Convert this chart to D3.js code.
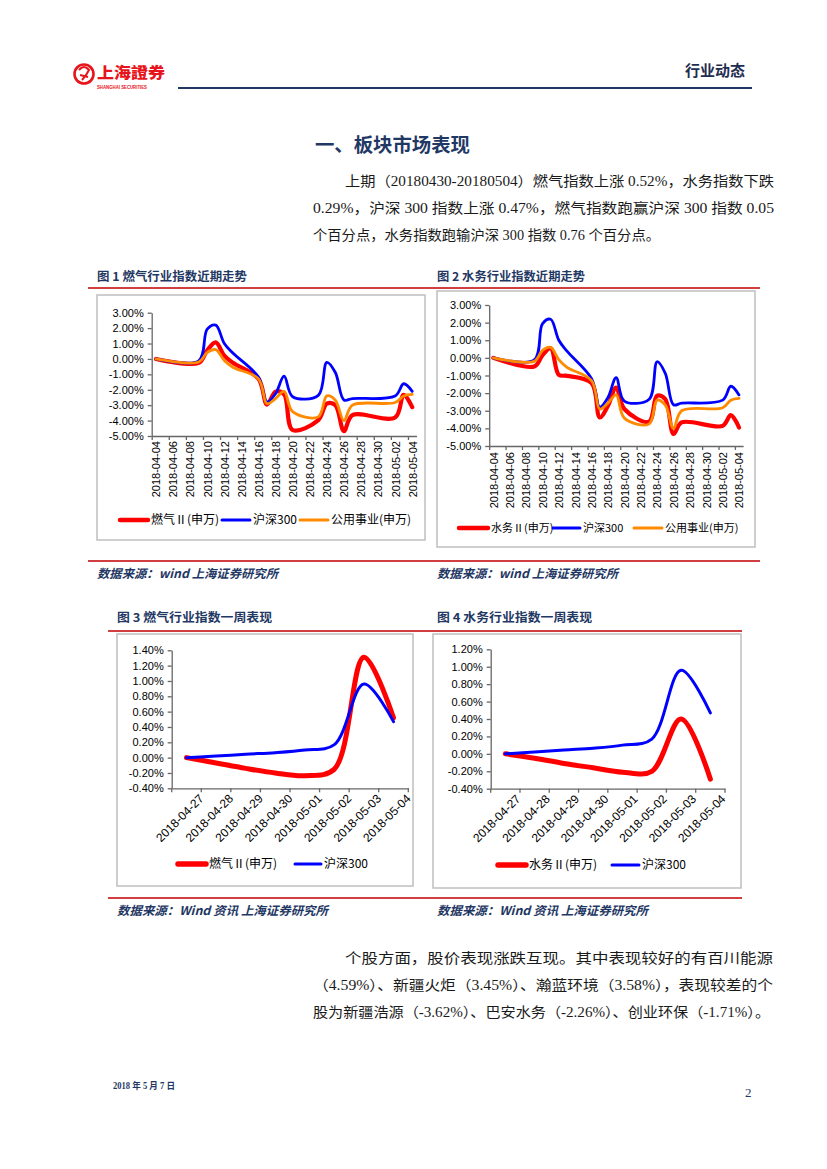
<!DOCTYPE html>
<html>
<head>
<meta charset="utf-8">
<script src="https://cdn.jsdelivr.net/npm/d3@7"></script>
<style>
  body { margin: 0; background: #fff; }
  svg { display: block; }
</style>
</head>
<body>
<svg id="page" width="827" height="1169"></svg>
<script>
// ---- data ----
var trendDates = ["2018-04-04", "2018-04-09", "2018-04-10", "2018-04-11", "2018-04-12", "2018-04-13",
  "2018-04-16", "2018-04-17", "2018-04-18", "2018-04-19", "2018-04-20", "2018-04-23", "2018-04-24",
  "2018-04-25", "2018-04-26", "2018-04-27", "2018-05-02", "2018-05-03", "2018-05-04"];
var hs300Trend = [0, -0.12, 1.93, 2.19, 1.0, 0.38, -1.18, -2.79, -2.25, -1.12, -2.45, -2.36, -0.22,
  -0.88, -2.66, -2.57, -2.40, -1.61, -2.10];
var gasTrend = [0, -0.26, 0.56, 1.07, 0.21, -0.25, -1.29, -2.96, -2.12, -2.3, -4.61, -3.97, -2.9,
  -3.0, -4.68, -3.65, -3.8, -2.33, -3.13];
var utilTrend = [0, -0.2, 0.43, 0.6, -0.1, -0.54, -1.29, -2.9, -2.57, -2.1, -3.42, -3.76, -2.4,
  -2.68, -4.0, -3.0, -2.83, -2.4, -2.3];
var waterTrend = [0, -0.49, 0.15, 0.55, -0.96, -1.02, -1.43, -3.38, -2.72, -1.68, -2.9, -3.62, -2.15,
  -2.34, -4.32, -3.66, -3.86, -3.25, -3.95];
var trendTickLabels = ["2018-04-04", "2018-04-06", "2018-04-08", "2018-04-10", "2018-04-12", "2018-04-14",
  "2018-04-16", "2018-04-18", "2018-04-20", "2018-04-22", "2018-04-24", "2018-04-26", "2018-04-28",
  "2018-04-30", "2018-05-02", "2018-05-04"];
var trendYTicks = [-5, -4, -3, -2, -1, 0, 1, 2, 3];

var weekDates = ["2018-04-27", "2018-04-28", "2018-04-29", "2018-04-30", "2018-05-01", "2018-05-02",
  "2018-05-03", "2018-05-04"];
var hs300Week = [0, 0.02, 0.045, 0.065, 0.10, 0.17, 0.96, 0.47];
var gasWeek = [0, -0.07, -0.14, -0.2, -0.235, -0.15, 1.31, 0.52];
var waterWeek = [0, -0.05, -0.11, -0.16, -0.21, -0.20, 0.40, -0.29];
var gasWeekYTicks = [-0.4, -0.2, 0, 0.2, 0.4, 0.6, 0.8, 1.0, 1.2, 1.4];
var waterWeekYTicks = [-0.4, -0.2, 0, 0.2, 0.4, 0.6, 0.8, 1.0, 1.2];

var RED = "#ff0000", BLUE = "#0000ff", ORANGE = "#ff8a00";
var NAVY = "#1f3864", LINE_RED = "#c00000", AXIS = "#666";
var CJK = "'Noto Sans CJK SC', sans-serif";
var ARIAL = "'Liberation Sans', Arial, sans-serif";
var SERIF = "'Liberation Serif', 'Noto Sans CJK SC', serif";

var svg = d3.select("#page");
var parse = d3.timeParse("%Y-%m-%d");
var pct = function(v){ return v.toFixed(2) + "%"; };
var smooth = d3.curveCatmullRom.alpha(0.5);

// ---- page furniture ----
function rule(x1, x2, y, color, w){
  svg.append("line").attr("x1", x1).attr("x2", x2).attr("y1", y).attr("y2", y)
    .attr("stroke", color).attr("stroke-width", w);
}
function txt(x, y, s, size, opts){
  opts = opts || {};
  var t = svg.append("text").attr("x", x).attr("y", y).text(s)
    .attr("font-family", opts.family || CJK)
    .attr("font-size", size)
    .attr("fill", opts.fill || "#1a1a1a")
    .attr("font-weight", opts.weight || "normal");
  if (opts.style) t.attr("font-style", opts.style);
  if (opts.len) t.attr("textLength", opts.len).attr("lengthAdjust", "spacingAndGlyphs");
  if (opts.anchor) t.attr("text-anchor", opts.anchor);
  return t;
}

// header logo
svg.append("circle").attr("cx", 84).attr("cy", 74).attr("r", 9.5)
  .attr("fill", "none").attr("stroke", "#e8141b").attr("stroke-width", 2.6);
svg.append("path").attr("d", "M79,70 Q84,64 89,70 Q86,76 82,80 M80,75 L88,77")
  .attr("fill", "none").attr("stroke", "#e8141b").attr("stroke-width", 2);
txt(97, 78, "上海證券", 15, {fill: "#e8141b", weight: 900, len: 68});
txt(97, 89, "SHANGHAI SECURITIES", 4.5, {fill: "#e8141b", family: ARIAL, weight: "bold", len: 50});
txt(745, 76, "行业动态", 15, {fill: "#1f2d50", weight: "bold", anchor: "end"});
rule(178, 752, 88, NAVY, 2);

txt(315, 152, "一、板块市场表现", 19, {fill: NAVY, weight: "bold", len: 155});

var para1 = [
  {x: 345, y: 186, w: 429, s: "上期（20180430-20180504）燃气指数上涨 0.52%，水务指数下跌"},
  {x: 313, y: 213, w: 461, s: "0.29%，沪深 300 指数上涨 0.47%，燃气指数跑赢沪深 300 指数 0.05"},
  {x: 313, y: 240, w: 347, s: "个百分点，水务指数跑输沪深 300 指数 0.76 个百分点。"}
];
var para2 = [
  {x: 345, y: 963, w: 428, s: "个股方面，股价表现涨跌互现。其中表现较好的有百川能源"},
  {x: 313, y: 990, w: 460, s: "（4.59%）、新疆火炬（3.45%）、瀚蓝环境（3.58%），表现较差的个"},
  {x: 313, y: 1017, w: 457, s: "股为新疆浩源（-3.62%）、巴安水务（-2.26%）、创业环保（-1.71%）。"}
];
para1.concat(para2).forEach(function(l){
  txt(l.x, l.y, l.s, 14, {family: SERIF, len: l.w});
});

// captions and source notes
txt(97, 281, "图 1 燃气行业指数近期走势", 12, {fill: NAVY, weight: "bold", len: 150});
txt(437, 281, "图 2 水务行业指数近期走势", 12, {fill: NAVY, weight: "bold", len: 148});
rule(88, 760, 288, LINE_RED, 1.3);
rule(88, 760, 561, LINE_RED, 1.3);
txt(97, 578, "数据来源：wind 上海证券研究所", 12, {fill: NAVY, weight: "bold", style: "italic", len: 181});
txt(437, 578, "数据来源：wind 上海证券研究所", 12, {fill: NAVY, weight: "bold", style: "italic", len: 181});

txt(117, 622, "图 3 燃气行业指数一周表现", 12, {fill: NAVY, weight: "bold", len: 155});
txt(437, 622, "图 4 水务行业指数一周表现", 12, {fill: NAVY, weight: "bold", len: 155});
rule(108, 742, 631, LINE_RED, 1.3);
rule(108, 742, 898, LINE_RED, 1.3);
txt(117, 915, "数据来源：Wind 资讯 上海证券研究所", 12, {fill: NAVY, weight: "bold", style: "italic", len: 211});
txt(437, 915, "数据来源：Wind 资讯 上海证券研究所", 12, {fill: NAVY, weight: "bold", style: "italic", len: 211});

txt(113, 1089, "2018 年 5 月 7 日", 9.5, {fill: NAVY, weight: "bold", family: SERIF, len: 62});
txt(745, 1097, "2", 13, {fill: NAVY, family: SERIF});

// ---- chart helpers ----
function box(x, y, w, h){
  svg.append("rect").attr("x", x).attr("y", y).attr("width", w).attr("height", h)
    .attr("fill", "#fff").attr("stroke", "#bfbfbf").attr("stroke-width", 1.5);
}

function styleAxis(g){
  g.select(".domain").attr("stroke", AXIS).attr("stroke-width", 1.3);
  g.selectAll(".tick line").attr("stroke", AXIS).attr("stroke-width", 1.3);
  g.selectAll("text").attr("fill", "#000").attr("font-family", ARIAL);
}

function legend(items, y, size){
  items.forEach(function(it){
    svg.append("line").attr("x1", it.x0).attr("x2", it.x1).attr("y1", y).attr("y2", y)
      .attr("stroke", it.color).attr("stroke-width", it.w).attr("stroke-linecap", "round");
    txt(it.x1 + 3, y + size * 0.36, it.label, size, {fill: "#000"});
  });
}

function drawTrend(cfg){
  var g = svg.append("g");
  var days = trendDates.map(parse);
  var x = d3.scaleTime()
    .domain([d3.timeHour.offset(days[0], -12), d3.timeHour.offset(days[days.length - 1], 12)])
    .range([cfg.left, cfg.right]);
  var y = d3.scaleLinear().domain([-5, 3]).range([cfg.bottom, cfg.top]);

  var ya = g.append("g").attr("transform", "translate(" + cfg.left + ",0)")
    .call(d3.axisLeft(y).tickValues(trendYTicks).tickFormat(pct).tickSize(4).tickSizeOuter(0).tickPadding(4));
  ya.selectAll("text").attr("font-size", 11);
  styleAxis(ya);

  // tick marks sit on the day boundaries, labels on the day centres
  var labelDays = trendTickLabels.map(parse);
  var bounds = labelDays.map(function(d){ return d3.timeHour.offset(d, -12); });
  var xt = g.append("g").attr("transform", "translate(0," + cfg.bottom + ")")
    .call(d3.axisBottom(x).tickValues(bounds).tickFormat("").tickSize(4).tickSizeOuter(0));
  styleAxis(xt);
  var xl = g.append("g").attr("transform", "translate(0," + cfg.bottom + ")")
    .call(d3.axisBottom(x).tickValues(labelDays).tickFormat(d3.timeFormat("%Y-%m-%d")).tickSize(0));
  xl.select(".domain").remove();
  xl.selectAll("text").attr("font-size", 11).attr("fill", "#000").attr("font-family", ARIAL)
    .attr("transform", "rotate(-90)").attr("x", -cfg.labelGap).attr("y", 0).attr("dy", "0.35em")
    .style("text-anchor", "end");

  var line = d3.line()
    .x(function(d){ return x(d[0]); })
    .y(function(d){ return y(d[1]); })
    .curve(smooth);
  cfg.series.forEach(function(s){
    g.append("path").datum(days.map(function(d, i){ return [d, s.values[i]]; }))
      .attr("d", line).attr("fill", "none").attr("stroke", s.color)
      .attr("stroke-width", s.w).attr("stroke-linejoin", "round").attr("stroke-linecap", "round");
  });
}

function drawWeek(cfg){
  var g = svg.append("g");
  var x = d3.scaleBand().domain(weekDates).range([cfg.left, cfg.right]).paddingInner(0).paddingOuter(0);
  var y = d3.scaleLinear().domain(cfg.yDomain).range([cfg.bottom, cfg.top]);
  var cx = function(d){ return x(d) + x.bandwidth() / 2; };

  var ya = g.append("g").attr("transform", "translate(" + cfg.left + ",0)")
    .call(d3.axisLeft(y).tickValues(cfg.yTicks).tickFormat(pct).tickSize(4).tickSizeOuter(0).tickPadding(4));
  ya.selectAll("text").attr("font-size", 11);
  styleAxis(ya);

  var xa = g.append("g").attr("transform", "translate(0," + cfg.bottom + ")")
    .call(d3.axisBottom(x).tickSize(0).tickSizeOuter(0));
  styleAxis(xa);
  xa.selectAll("text").attr("font-size", 12)
    .attr("transform", "translate(" + cfg.labelDx + "," + cfg.labelDy + ") rotate(-45)")
    .attr("x", 0).attr("y", 0).attr("dy", "0.35em").style("text-anchor", "end");
  // boundary tick marks between categories
  g.selectAll(".btick").data(weekDates.concat(["end"])).enter().append("line")
    .attr("x1", function(d){ return d === "end" ? cfg.right : x(d); })
    .attr("x2", function(d){ return d === "end" ? cfg.right : x(d); })
    .attr("y1", cfg.bottom).attr("y2", cfg.bottom + 4)
    .attr("stroke", AXIS).attr("stroke-width", 1.3);

  var line = d3.line()
    .x(function(d){ return cx(d[0]); })
    .y(function(d){ return y(d[1]); })
    .curve(smooth);
  cfg.series.forEach(function(s){
    g.append("path").datum(weekDates.map(function(d, i){ return [d, s.values[i]]; }))
      .attr("d", line).attr("fill", "none").attr("stroke", s.color)
      .attr("stroke-width", s.w).attr("stroke-linejoin", "round").attr("stroke-linecap", "round");
  });
}

// ---- chart 1 ----
box(97, 295, 328, 245);
drawTrend({left: 151.7, right: 416.5, top: 312.7, bottom: 436, labelGap: 5,
  series: [
    {values: gasTrend, color: RED, w: 4.2},
    {values: hs300Trend, color: BLUE, w: 2.8},
    {values: utilTrend, color: ORANGE, w: 2.8}
  ]});
legend([
  {x0: 120, x1: 148, color: RED, w: 4.5, label: "燃气Ⅱ(申万)"},
  {x0: 222, x1: 250, color: BLUE, w: 3, label: "沪深300"},
  {x0: 300, x1: 328, color: ORANGE, w: 3, label: "公用事业(申万)"}
], 520, 12);

// ---- chart 2 ----
box(437, 291, 318, 256);
drawTrend({left: 489.2, right: 743.1, top: 305, bottom: 446, labelGap: 6,
  series: [
    {values: waterTrend, color: RED, w: 4.2},
    {values: hs300Trend, color: BLUE, w: 2.8},
    {values: utilTrend, color: ORANGE, w: 2.8}
  ]});
legend([
  {x0: 459, x1: 488, color: RED, w: 4.5, label: "水务Ⅱ(申万)"},
  {x0: 553, x1: 580, color: BLUE, w: 3, label: "沪深300"},
  {x0: 634, x1: 662, color: ORANGE, w: 3, label: "公用事业(申万)"}
], 528, 11);

// ---- chart 3 ----
box(117, 634, 296, 252);
drawWeek({left: 171.7, right: 408.3, top: 650.3, bottom: 788.3, yDomain: [-0.4, 1.4],
  yTicks: gasWeekYTicks, labelDx: 15, labelDy: 8,
  series: [
    {values: gasWeek, color: RED, w: 5},
    {values: hs300Week, color: BLUE, w: 3}
  ]});
legend([
  {x0: 178, x1: 206, color: RED, w: 5.5, label: "燃气Ⅱ(申万)"},
  {x0: 295, x1: 321, color: BLUE, w: 3, label: "沪深300"}
], 864, 12);

// ---- chart 4 ----
box(433, 634, 308, 254);
drawWeek({left: 490.7, right: 725, top: 649.3, bottom: 788.7, yDomain: [-0.4, 1.2],
  yTicks: waterWeekYTicks, labelDx: 13, labelDy: 8,
  series: [
    {values: waterWeek, color: RED, w: 5},
    {values: hs300Week, color: BLUE, w: 3}
  ]});
legend([
  {x0: 498, x1: 526, color: RED, w: 5.5, label: "水务Ⅱ(申万)"},
  {x0: 612, x1: 639, color: BLUE, w: 3, label: "沪深300"}
], 865, 12);
</script>
</body>
</html>
